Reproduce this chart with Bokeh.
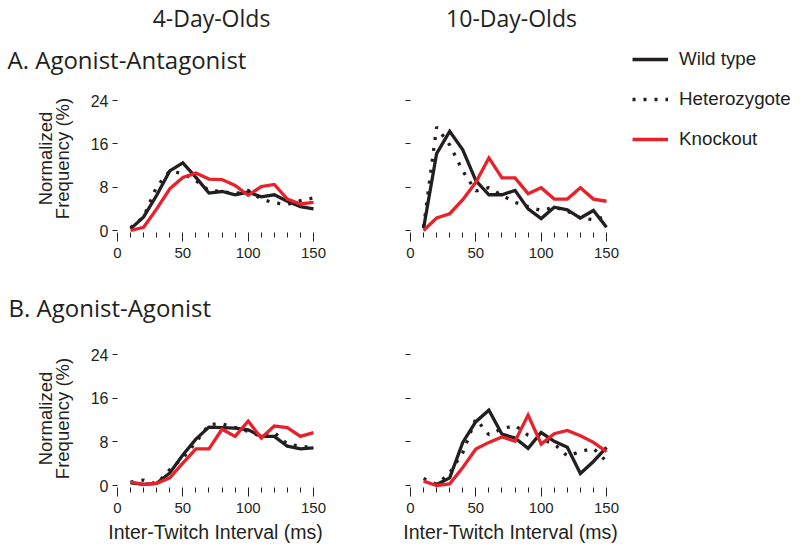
import math
from bokeh.plotting import figure
from bokeh.models import FixedTicker, Range1d, Label, Legend, LegendItem
from bokeh.layouts import column, row
from bokeh.embed import file_html
from bokeh.resources import INLINE

# ---------------- data ----------------
interval = [10, 20, 30, 40, 50, 60, 70, 80, 90, 100, 110, 120, 130, 140, 150]
interval_from20 = [20, 30, 40, 50, 60, 70, 80, 90, 100, 110, 120, 130, 140, 150]

# A. Agonist-Antagonist, 4-day-olds
aa4_wild = [0.3, 2.5, 6.5, 11.0, 12.5, 9.8, 6.9, 7.2, 6.6, 7.1, 6.2, 6.6, 5.4, 4.4, 4.0]
aa4_het = [0.5, 2.5, 8.1, 11.0, 10.5, 9.2, 7.4, 7.2, 6.8, 7.4, 5.8, 5.1, 4.8, 5.5, 6.0]
aa4_ko = [0.0, 0.6, 4.0, 7.7, 9.8, 10.6, 9.5, 9.4, 8.3, 6.5, 8.1, 8.5, 5.8, 4.9, 5.2]

# A. Agonist-Antagonist, 10-day-olds
aa10_wild = [0.4, 14.2, 18.3, 14.9, 9.2, 6.6, 6.6, 7.4, 4.0, 2.2, 4.3, 3.8, 2.3, 3.7, 0.6]
aa10_het = [0.6, 19.1, 15.8, 11.0, 7.3, 7.9, 6.5, 5.2, 4.4, 3.7, 4.3, 3.6, 2.3, 2.0, 2.6]
aa10_ko = [0.0, 2.3, 3.1, 5.7, 8.9, 13.4, 9.7, 9.7, 6.8, 7.9, 5.8, 5.8, 7.9, 5.8, 5.4]

# B. Agonist-Agonist, 4-day-olds
ag4_wild = [0.5, 0.2, 0.4, 2.3, 5.6, 8.5, 10.7, 10.6, 10.5, 10.2, 9.0, 9.0, 7.2, 6.7, 6.9]
ag4_het = [0.6, 1.0, 0.3, 2.9, 5.0, 7.9, 11.2, 11.3, 10.6, 9.9, 9.0, 9.7, 7.6, 7.2, 6.9]
ag4_ko = [0.6, 0.2, 0.4, 1.4, 4.1, 6.7, 6.7, 10.3, 9.0, 11.8, 8.7, 10.9, 10.6, 9.0, 9.7]

# B. Agonist-Agonist, 10-day-olds (wild type starts at 20 ms)
ag10_wild = [0.2, 1.4, 7.9, 11.7, 13.8, 9.4, 8.7, 6.8, 9.7, 8.1, 7.0, 2.2, 4.4, 7.0]
ag10_het = [1.3, 0.2, 2.3, 6.0, 12.2, 9.3, 10.4, 11.0, 9.2, 8.5, 7.6, 5.4, 6.2, 6.8, 4.4]
ag10_ko = [0.8, 0.0, 0.3, 3.3, 6.7, 7.9, 8.9, 8.1, 12.9, 7.6, 9.5, 10.1, 9.1, 7.9, 6.2]

x_major = [0, 50, 100, 150]
x_minor = [10, 20, 30, 40, 60, 70, 80, 90, 110, 120, 130, 140]
y_ticks = [0, 8, 16, 24]

series_names = ["Wild type", "Heterozygote", "Knockout"]
col_titles = ["4-Day-Olds", "10-Day-Olds"]
row_titles = ["A. Agonist-Antagonist", "B. Agonist-Agonist"]
y_label_lines = ["Normalized", "Frequency (%)"]
x_label = "Inter-Twitch Interval (ms)"

INK = "#231f20"
RED = "#e8212a"
HEAD_FONT = "Open Sans"
AX_FONT = "Liberation Sans"
WIDTH = 3.3
DOTS = "3 8"

# ---------------- geometry (pixels) ----------------
HA, HB = 287, 264          # row heights
WL, WR = 331, 469          # left / right figure widths
PX_X = 196.0 / 150         # px per ms
PX_YA = 130.0 / 24         # px per % (row A)
PX_YB = 131.0 / 24         # px per % (row B)
ZERO_XL, ZERO_XR = 117, 79     # x of 0 ms inside each figure
ZERO_YA, ZERO_YB = 230, 198    # y (from top) of 0 % inside each row


def make_panel(width, height, zx, zy, pxy, wild, wild_x, het, ko, ylabels):
    xr = Range1d(-zx / PX_X, (width - zx) / PX_X)
    yr = Range1d((zy - height) / pxy, zy / pxy)
    p = figure(width=width, height=height, output_backend="svg",
               toolbar_location=None, x_range=xr, y_range=yr,
               min_border_left=0, min_border_right=0, min_border_top=0,
               min_border_bottom=0)
    p.outline_line_color = None
    p.xgrid.visible = False
    p.ygrid.visible = False
    p.background_fill_color = "white"
    p.border_fill_color = "white"

    rw = p.line(wild_x, wild, line_color=INK, line_width=WIDTH, line_join="miter")
    rh = p.line(interval, het, line_color=INK, line_width=WIDTH,
                line_dash=DOTS, line_cap="butt")
    rk = p.line(interval, ko, line_color=RED, line_width=WIDTH, line_join="miter")

    xa = p.xaxis[0]
    xa.fixed_location = -2.0 / pxy
    xa.ticker = FixedTicker(ticks=x_major, minor_ticks=x_minor)
    xa.axis_line_color = None
    xa.major_tick_in = 0
    xa.major_tick_out = 9
    xa.minor_tick_in = 0
    xa.minor_tick_out = 5
    xa.major_tick_line_color = INK
    xa.minor_tick_line_color = INK
    xa.major_label_standoff = 6
    xa.major_label_text_font = AX_FONT
    xa.major_label_text_font_size = "15px"
    xa.major_label_text_color = INK

    ya = p.yaxis[0]
    ya.fixed_location = 0
    ya.ticker = FixedTicker(ticks=y_ticks)
    ya.axis_line_color = None
    ya.major_tick_in = 0
    ya.major_tick_out = 5
    ya.minor_tick_out = 0
    ya.major_tick_line_color = INK
    ya.major_label_standoff = 4
    ya.major_label_text_font = AX_FONT
    ya.major_label_text_font_size = "16px"
    ya.major_label_text_color = INK
    if not ylabels:
        ya.major_label_overrides = {t: "" for t in y_ticks}
    return p, (rw, rh, rk)


def text(p, s, x, y, font, size, align="left", angle=0.0):
    # x, y: pixels from the figure's top-left corner
    p.add_layout(Label(x=x, y=p.height - y, x_units="screen", y_units="screen",
                       text=s, text_font=font, text_font_size=size,
                       text_color=INK, text_align=align,
                       text_baseline="alphabetic", angle=angle))


pa4, _ = make_panel(WL, HA, ZERO_XL, ZERO_YA, PX_YA, aa4_wild, interval, aa4_het, aa4_ko, True)
pa10, rends = make_panel(WR, HA, ZERO_XR, ZERO_YA, PX_YA, aa10_wild, interval, aa10_het, aa10_ko, False)
pb4, _ = make_panel(WL, HB, ZERO_XL, ZERO_YB, PX_YB, ag4_wild, interval, ag4_het, ag4_ko, True)
pb10, _ = make_panel(WR, HB, ZERO_XR, ZERO_YB, PX_YB, ag10_wild, interval_from20, ag10_het, ag10_ko, False)

# headings
text(pa4, col_titles[0], 211, 17.5, HEAD_FONT, "23px", "center")
text(pa10, col_titles[1], 180, 17.5, HEAD_FONT, "23px", "center")
text(pa4, row_titles[0], 7, 58.5, HEAD_FONT, "24px")
text(pb4, row_titles[1], 8, 20, HEAD_FONT, "24px")

# y-axis titles (two rotated lines)
for p, cy in ((pa4, 158), (pb4, 131)):
    text(p, y_label_lines[0], 45, cy, AX_FONT, "18.5px", "center", math.pi / 2)
    text(p, y_label_lines[1], 62, cy, AX_FONT, "18.5px", "center", math.pi / 2)

# x-axis titles
text(pb4, x_label, 215, 244, AX_FONT, "19.5px", "center")
text(pb10, x_label, 179, 244, AX_FONT, "19.5px", "center")

legend = Legend(items=[LegendItem(label=n, renderers=[r]) for n, r in zip(series_names, rends)],
                location=(301, HA - 150), orientation="vertical",
                glyph_width=36, glyph_height=20, label_height=20, label_width=20,
                label_standoff=11, spacing=18, padding=0, margin=0,
                border_line_color=None, background_fill_alpha=0,
                label_text_font=AX_FONT, label_text_font_size="18.8px",
                label_text_color=INK)
pa10.add_layout(legend, "center")

layout = column(row(pa4, pa10), row(pb4, pb10))

open("out.html", "w").write(file_html(layout, INLINE))
